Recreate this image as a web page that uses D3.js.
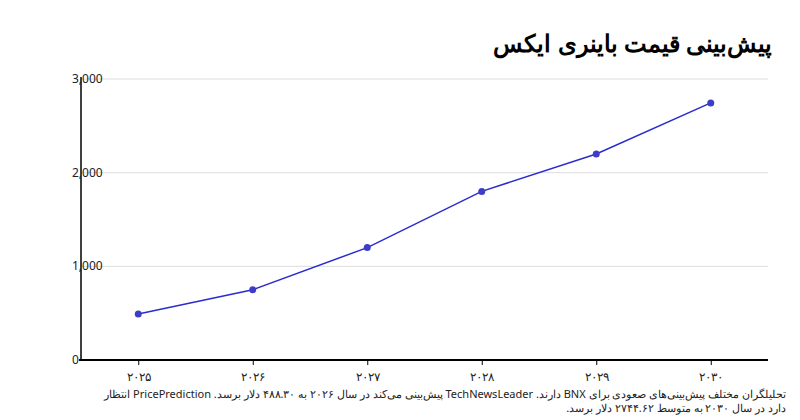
<!DOCTYPE html>
<html><head><meta charset="utf-8">
<script src="https://cdn.jsdelivr.net/npm/d3@7"></script>
<style>body{margin:0;background:#fff;font-family:"Noto Sans",sans-serif}</style>
</head><body><div id="chart"></div>
<script>
const years = ["۲۰۲۵", "۲۰۲۶", "۲۰۲۷", "۲۰۲۸", "۲۰۲۹", "۲۰۳۰"]
const prices = [490, 750, 1200, 1800, 2200, 2745]
const yTicks = [0, 1000, 2000, 3000]
const title = "پیش‌بینی قیمت باینری ایکس"
const caption = [
    "تحلیلگران مختلف پیش‌بینی‌های صعودی برای BNX دارند. TechNewsLeader پیش‌بینی می‌کند در سال ۲۰۲۶ به ۴۸۸.۳۰ دلار برسد. PricePrediction انتظار",
    "دارد در سال ۲۰۳۰ به متوسط ۲۷۴۴.۶۲ دلار برسد."
]

const svg = d3.select("#chart").append("svg").attr("width", 800).attr("height", 420)

const x = d3.scalePoint().domain(years).range([81, 768]).padding(0.5)
const y = d3.scaleLinear().domain([0, 3000]).range([360, 79])

// rtl: "start" anchors at the right edge
svg.append("text").attr("x", 772).attr("y", 52).attr("text-anchor", "start")
    .attr("direction", "rtl").attr("font-size", 24).attr("font-weight", "bold")
    .attr("fill", "#000").text(title)

// grid
svg.append("g").selectAll("line").data(yTicks.slice(1)).join("line")
    .attr("x1", 81).attr("x2", 768).attr("y1", d => y(d)).attr("y2", d => y(d))
    .attr("stroke", "#ddd")

svg.append("line").attr("x1", 81).attr("x2", 81).attr("y1", 77).attr("y2", 360)
    .attr("stroke", "#000").attr("stroke-width", 1.5)
svg.append("line").attr("x1", 79).attr("x2", 768).attr("y1", 360).attr("y2", 360)
    .attr("stroke", "#000").attr("stroke-width", 2)

svg.append("g").selectAll("text").data(yTicks).join("text")
    .attr("x", 72).attr("y", d => y(d) + 4).attr("font-size", 12).attr("fill", "#222")
    .text(d => d3.format(",")(d))

const xa = svg.append("g").attr("transform", "translate(0,360)")
    .call(d3.axisBottom(x).tickSize(5).tickSizeOuter(0))
xa.select(".domain").remove()
xa.selectAll("text").attr("font-size", 12).attr("fill", "#222").attr("dy", "1.1em")
    .attr("font-family", "Noto Sans")

const data = years.map((d, i) => ({ year: d, v: prices[i] }))
svg.append("path").datum(data)
    .attr("d", d3.line().x(d => x(d.year)).y(d => y(d.v)))
    .attr("fill", "none").attr("stroke", "#2a2bd0").attr("stroke-width", 1.5)
svg.append("g").selectAll("circle").data(data).join("circle")
    .attr("cx", d => x(d.year)).attr("cy", d => y(d.v)).attr("r", 3.5)
    .attr("fill", "#3d3dc8")

svg.append("g").selectAll("text").data(caption).join("text")
    .attr("x", 786).attr("y", (d, i) => 398 + i * 14).attr("text-anchor", "start")
    .attr("direction", "rtl").attr("font-size", 11).attr("fill", "#222").text(d => d)
</script></body></html>
